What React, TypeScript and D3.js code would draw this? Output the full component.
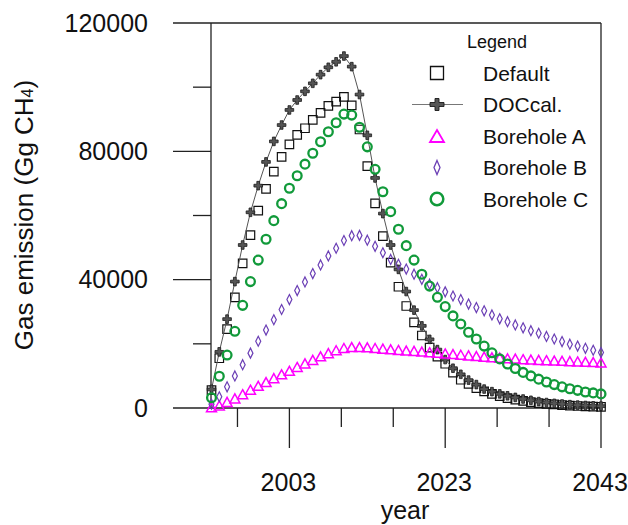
import React from 'react';
import * as d3 from 'd3';

const years = [
  1993, 1994, 1995, 1996, 1997, 1998, 1999, 2000, 2001, 2002,
  2003, 2004, 2005, 2006, 2007, 2008, 2009, 2010, 2011, 2012,
  2013, 2014, 2015, 2016, 2017, 2018, 2019, 2020, 2021, 2022,
  2023, 2024, 2025, 2026, 2027, 2028, 2029, 2030, 2031, 2032,
  2033, 2034, 2035, 2036, 2037, 2038, 2039, 2040, 2041, 2042, 2043,
];

const defaultVals = [
  5600, 15500, 24600, 34500, 45100, 53900, 61500, 68300, 73700, 78300,
  82200, 85100, 87200, 89800, 92000, 94200, 95500, 97000, 94300, 86800,
  75400, 63800, 53600, 45300, 37800, 31800, 26700, 22600, 18800, 16000,
  13800, 11000, 8800, 7500, 6200, 5200, 4400, 3700, 3100, 2600,
  2200, 1850, 1550, 1300, 1100, 900, 750, 620, 520, 430, 350,
];

const docCalVals = [
  5800, 17500, 27700, 39400, 50800, 61000, 69300, 76700, 83100, 88200,
  92900, 96000, 98700, 101200, 103900, 106200, 107900, 109700, 106400, 97700,
  85000, 71700, 60600, 50800, 43200, 36300, 30500, 25600, 21400, 18200,
  15100, 12400, 10500, 8700, 7300, 5900, 5100, 4400, 3800, 3300,
  2800, 2400, 2000, 1700, 1450, 1250, 1050, 900, 780, 670, 580,
];

const boreholeAVals = [
  200, 800, 1900, 3000, 4300, 5700, 6900, 8100, 9300, 10500,
  11600, 12800, 13900, 15000, 16100, 17100, 18000, 18700, 19000, 19000,
  18900, 18700, 18500, 18300, 18100, 17900, 17800, 17600, 17400, 17200,
  17000, 16800, 16600, 16400, 16200, 16000, 15800, 15700, 15500, 15400,
  15200, 15100, 15000, 14900, 14800, 14700, 14600, 14500, 14400, 14300, 14200,
];

const boreholeBVals = [
  1200, 3500, 6600, 10000, 13500, 17100, 20800, 24300, 27500, 30700,
  33800, 36600, 39300, 41900, 44600, 47400, 49800, 52200, 53700, 53800,
  52300, 50400, 48400, 46300, 44800, 43300, 41700, 40100, 38600, 37500,
  36200, 34900, 33800, 32400, 31300, 30300, 29000, 27800, 26900, 25900,
  25000, 24100, 23300, 22300, 21500, 20700, 19900, 19300, 18600, 18000, 17300,
];

const boreholeCVals = [
  3200, 9900, 16500, 23900, 32000, 39400, 46100, 52600, 58400, 63700,
  68500, 72400, 76000, 79400, 83000, 86100, 88900, 91600, 91300, 87500,
  81400, 74400, 67400, 61200, 55700, 50600, 46100, 41700, 38000, 34500,
  31600, 28700, 26200, 23600, 21500, 19300, 17200, 15300, 13700, 12300,
  11100, 10000, 9000, 8100, 7300, 6600, 6000, 5500, 5000, 4700, 4400,
];

const seriesNames = ['Default', 'DOCcal.', 'Borehole A', 'Borehole B', 'Borehole C'];
const yMajorTicks = [0, 40000, 80000, 120000];
const yMinorTicks = [20000, 60000, 100000];
const xMajorTicks = [2003, 2023, 2043];
const xMinorTicks = [1996.333, 2009.667, 2016.333, 2029.667, 2036.333];

const FONT = "'Liberation Sans', Arial, sans-serif";
const MAGENTA = '#ff00ff';
const PURPLE = '#6b3fb5';
const GREEN = '#119a3a';

const squarePath = (cx: number, cy: number, s: number) =>
  `M${cx - s / 2},${cy - s / 2}h${s}v${s}h${-s}Z`;
const trianglePath = (cx: number, cy: number, w: number, h: number) =>
  `M${cx},${cy - h / 2}L${cx + w / 2},${cy + h / 2}L${cx - w / 2},${cy + h / 2}Z`;
const diamondPath = (cx: number, cy: number, w: number, h: number) =>
  `M${cx},${cy - h / 2}L${cx + w / 2},${cy}L${cx},${cy + h / 2}L${cx - w / 2},${cy}Z`;
const crossPath = (cx: number, cy: number, ax: number, ay: number, t: number) =>
  `M${cx - t},${cy - ay}H${cx + t}V${cy - t}H${cx + ax}V${cy + t}H${cx + t}V${cy + ay}H${cx - t}V${cy + t}H${cx - ax}V${cy - t}H${cx - t}Z`;

export default function App() {
  const W = 628;
  const H = 525;
  const x = d3.scaleLinear().domain([1993, 2043]).range([211.5, 601]);
  const y = d3.scaleLinear().domain([0, 120000]).range([408, 23]);
  const left = 211;
  const right = 601;
  const top = 23;
  const bottom = 408;

  const line = d3
    .line<number>()
    .x((_, i) => x(years[i]))
    .y((d) => y(d));

  const axisColor = '#222';

  const legX = 437;
  const legTextX = 483;
  const legRows = [73, 104.5, 136, 167.5, 199];

  return (
    <svg
      width={W}
      height={H}
      style={{ position: 'absolute', left: 0, top: 0, background: '#fff' }}
      fontFamily={FONT}
    >
      <rect x={0} y={0} width={W} height={H} fill="#fff" />

      <g stroke={axisColor} strokeWidth={1.3} fill="none">
        <line x1={left} y1={top} x2={right} y2={top} />
        <line x1={left} y1={top} x2={left} y2={bottom} />
        <line x1={right} y1={top} x2={right} y2={bottom} />
        <line x1={left} y1={bottom} x2={right} y2={bottom} />
      </g>

      <g stroke={axisColor} strokeWidth={1.3}>
        {yMajorTicks.map((t) => (
          <line key={'ym' + t} x1={173} x2={left} y1={y(t)} y2={y(t)} />
        ))}
        {yMinorTicks.map((t) => (
          <line key={'yn' + t} x1={193} x2={left} y1={y(t)} y2={y(t)} />
        ))}
        {xMajorTicks.map((t) => (
          <line key={'xm' + t} x1={x(t)} x2={x(t)} y1={bottom} y2={448} />
        ))}
        {xMinorTicks.map((t) => (
          <line key={'xn' + t} x1={x(t)} x2={x(t)} y1={bottom} y2={427} />
        ))}
      </g>

      <g fontSize={25} fill="#111">
        {yMajorTicks.map((t) => (
          <text key={'yl' + t} x={148} y={y(t)} dy="0.35em" textAnchor="end">
            {t}
          </text>
        ))}
        {xMajorTicks.map((t) => (
          <text key={'xl' + t} x={x(t) - 1} y={491} textAnchor="middle">
            {t}
          </text>
        ))}
        <text x={405} y={519} textAnchor="middle">
          year
        </text>
        <text transform="translate(33,215) rotate(-90)" textAnchor="middle" fontSize={26}>
          Gas emission (Gg CH
          <tspan fontSize={16}>4</tspan>
          <tspan>)</tspan>
        </text>
      </g>

      <g fill="none" stroke="#111" strokeWidth={1.2}>
        {defaultVals.map((v, i) => (
          <path key={'d' + i} d={squarePath(x(years[i]), y(v), 8.5)} />
        ))}
      </g>

      <path d={line(docCalVals) || ''} fill="none" stroke="#555" strokeWidth={1} />
      <g fill="#555" stroke="#1a1a1a" strokeWidth={0.8}>
        {docCalVals.map((v, i) => (
          <path key={'c' + i} d={crossPath(x(years[i]), y(v), 4.3, 4.3, 1.4)} />
        ))}
      </g>

      <g fill="none" stroke={MAGENTA} strokeWidth={1.5}>
        {boreholeAVals.map((v, i) => (
          <path key={'a' + i} d={trianglePath(x(years[i]), y(v), 10, 9)} />
        ))}
      </g>

      <g fill="none" stroke={PURPLE} strokeWidth={1.2}>
        {boreholeBVals.map((v, i) => (
          <path key={'b' + i} d={diamondPath(x(years[i]), y(v), 5, 10)} />
        ))}
      </g>

      <g fill="none" stroke={GREEN} strokeWidth={2.3}>
        {boreholeCVals.map((v, i) => (
          <circle key={'g' + i} cx={x(years[i])} cy={y(v)} r={4.4} />
        ))}
      </g>

      <g fontSize={21} fill="#111">
        <text x={497} y={48} fontSize={18} textAnchor="middle">
          Legend
        </text>
        {seriesNames.map((n, i) => (
          <text key={'lt' + i} x={legTextX} y={legRows[i] + 7.5}>
            {n}
          </text>
        ))}
      </g>
      <path d={squarePath(legX, legRows[0], 13)} fill="none" stroke="#111" strokeWidth={1.3} />
      <line x1={412} x2={463} y1={legRows[1]} y2={legRows[1]} stroke="#777" strokeWidth={1.2} />
      <path d={crossPath(legX, legRows[1], 7, 6, 2)} fill="#555" stroke="#1a1a1a" strokeWidth={0.9} />
      <path d={trianglePath(legX, legRows[2], 14, 12)} fill="none" stroke={MAGENTA} strokeWidth={1.8} />
      <path d={diamondPath(legX, legRows[3], 6, 14)} fill="none" stroke={PURPLE} strokeWidth={1.3} />
      <circle cx={legX} cy={legRows[4]} r={6.3} fill="none" stroke={GREEN} strokeWidth={2.5} />
    </svg>
  );
}
